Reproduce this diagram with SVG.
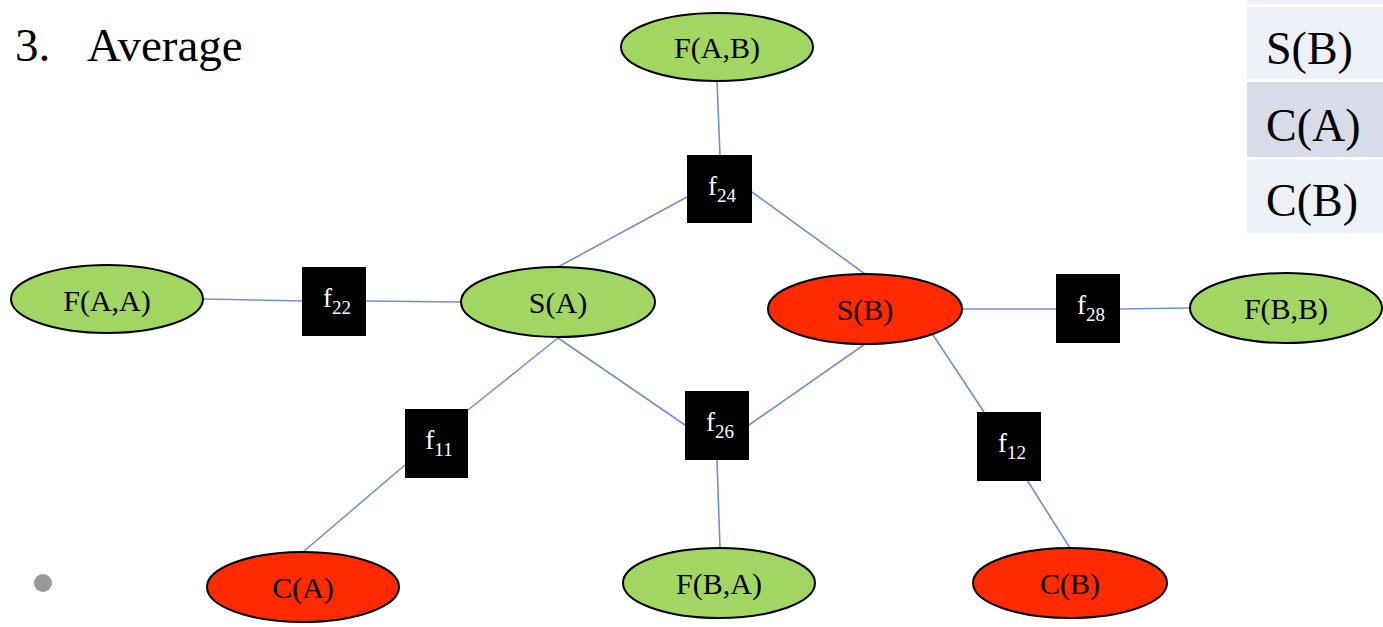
<svg xmlns="http://www.w3.org/2000/svg" width="1383" height="627" viewBox="0 0 1383 627">
  <style>
    .edge { stroke: #7191cb; stroke-width: 1.6; fill: none; }
    .var { stroke: #000; stroke-width: 2; }
    .green { fill: #a1d662; }
    .red { fill: #ff2a00; }
    .vlabel { font-family: "Liberation Serif", "Times New Roman", serif; font-size: 30px; fill: #000; text-anchor: middle; }
    .factor { fill: #000; }
    .flabel { font-family: "Liberation Serif", "Times New Roman", serif; font-size: 27px; fill: #fff; text-anchor: middle; }
    .sub { font-size: 19px; }
    .title { font-family: "Liberation Serif", "Times New Roman", serif; font-size: 47px; fill: #000; }
    .cell-light { fill: #eef0f7; }
    .cell-dark { fill: #d8dce9; }
    .cell-text { font-family: "Liberation Serif", "Times New Roman", serif; font-size: 46px; fill: #000; }
  </style>

  <!-- heading -->
  <text class="title" x="15" y="61">3.</text>
  <text class="title" x="87" y="61">Average</text>
  <circle cx="43" cy="583" r="9" fill="#999"/>

  <!-- table of variables (right margin) -->
  <g id="table">
    <rect class="cell-light" x="1247" y="0" width="136" height="4"/>
    <rect class="cell-light" x="1247" y="7" width="136" height="72"/>
    <rect class="cell-dark" x="1247" y="82" width="136" height="75"/>
    <rect class="cell-light" x="1247" y="160" width="136" height="73"/>
    <text class="cell-text" x="1266" y="64">S(B)</text>
    <text class="cell-text" x="1266" y="141">C(A)</text>
    <text class="cell-text" x="1266" y="216">C(B)</text>
  </g>

  <!-- connectors -->
  <g id="edges">
    <line class="edge" x1="717" y1="81" x2="720" y2="155"/>
    <line class="edge" x1="687" y1="197" x2="558" y2="267"/>
    <line class="edge" x1="752" y1="192" x2="865" y2="274"/>
    <line class="edge" x1="203" y1="299" x2="302" y2="301"/>
    <line class="edge" x1="366" y1="301" x2="461" y2="302"/>
    <line class="edge" x1="962" y1="309" x2="1056" y2="309"/>
    <line class="edge" x1="1120" y1="309" x2="1190" y2="308"/>
    <line class="edge" x1="558" y1="338" x2="468" y2="410"/>
    <line class="edge" x1="405" y1="465" x2="303" y2="552"/>
    <line class="edge" x1="558" y1="338" x2="685" y2="425"/>
    <line class="edge" x1="749" y1="425" x2="865" y2="344"/>
    <line class="edge" x1="717" y1="460" x2="720" y2="548"/>
    <line class="edge" x1="933" y1="335" x2="984" y2="412"/>
    <line class="edge" x1="1027" y1="480" x2="1070" y2="548"/>
  </g>

  <!-- variable nodes -->
  <g id="F_AB">
    <ellipse class="var green" cx="717" cy="47" rx="96" ry="34"/>
    <text class="vlabel" x="717" y="58">F(A,B)</text>
  </g>
  <g id="F_AA">
    <ellipse class="var green" cx="107" cy="299" rx="96" ry="34"/>
    <text class="vlabel" x="107" y="311">F(A,A)</text>
  </g>
  <g id="S_A">
    <ellipse class="var green" cx="558" cy="302" rx="97" ry="35"/>
    <text class="vlabel" x="558" y="313">S(A)</text>
  </g>
  <g id="S_B">
    <ellipse class="var red" cx="865" cy="309" rx="97" ry="35"/>
    <text class="vlabel" x="865" y="320">S(B)</text>
  </g>
  <g id="F_BB">
    <ellipse class="var green" cx="1286" cy="308" rx="96" ry="35"/>
    <text class="vlabel" x="1286" y="319">F(B,B)</text>
  </g>
  <g id="C_A">
    <ellipse class="var red" cx="303" cy="587" rx="96" ry="35"/>
    <text class="vlabel" x="303" y="598">C(A)</text>
  </g>
  <g id="F_BA">
    <ellipse class="var green" cx="719" cy="583" rx="96" ry="35"/>
    <text class="vlabel" x="719" y="594">F(B,A)</text>
  </g>
  <g id="C_B">
    <ellipse class="var red" cx="1070" cy="583" rx="97" ry="35"/>
    <text class="vlabel" x="1070" y="594">C(B)</text>
  </g>

  <!-- factor nodes -->
  <g id="f24">
    <rect class="factor" x="687" y="155" width="65" height="68"/>
    <text class="flabel" x="722" y="195">f<tspan class="sub" dy="7">24</tspan></text>
  </g>
  <g id="f22">
    <rect class="factor" x="302" y="267" width="64" height="69"/>
    <text class="flabel" x="337" y="307">f<tspan class="sub" dy="7">22</tspan></text>
  </g>
  <g id="f28">
    <rect class="factor" x="1056" y="274" width="64" height="69"/>
    <text class="flabel" x="1091" y="314">f<tspan class="sub" dy="7">28</tspan></text>
  </g>
  <g id="f11">
    <rect class="factor" x="405" y="409" width="63" height="69"/>
    <text class="flabel" x="439" y="449">f<tspan class="sub" dy="7">11</tspan></text>
  </g>
  <g id="f26">
    <rect class="factor" x="685" y="391" width="64" height="69"/>
    <text class="flabel" x="720" y="431">f<tspan class="sub" dy="7">26</tspan></text>
  </g>
  <g id="f12">
    <rect class="factor" x="977" y="412" width="64" height="69"/>
    <text class="flabel" x="1012" y="452">f<tspan class="sub" dy="7">12</tspan></text>
  </g>
</svg>
